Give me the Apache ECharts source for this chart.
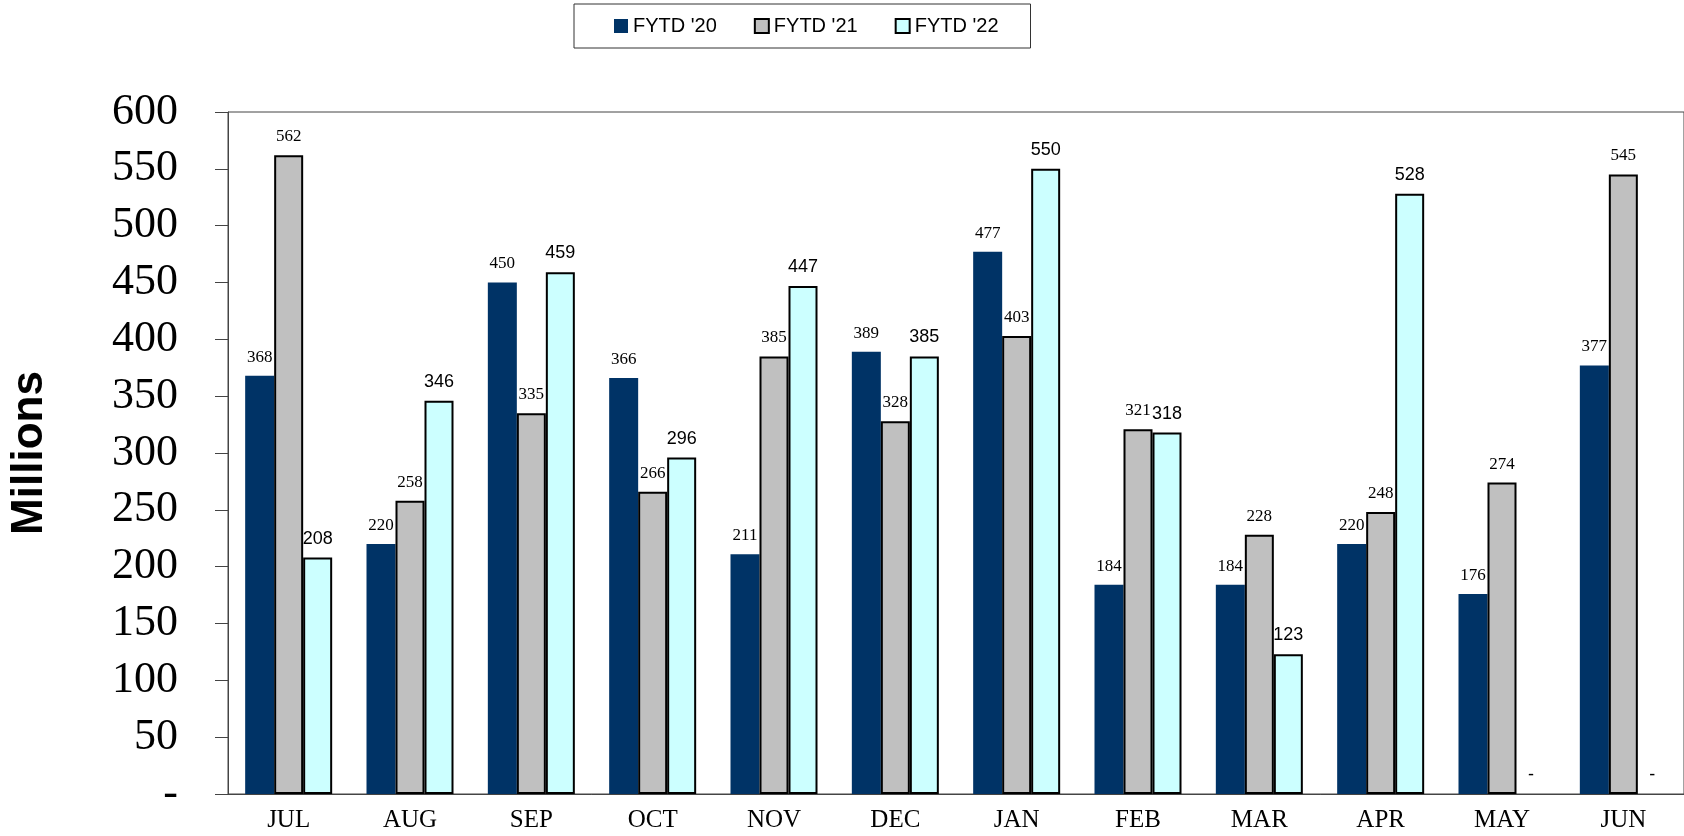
<!DOCTYPE html>
<html>
<head>
<meta charset="utf-8">
<title>FYTD</title>
<script src="https://cdn.jsdelivr.net/npm/echarts@6/dist/echarts.min.js"></script>
<style>
  html, body { margin: 0; padding: 0; background: #fff; }
  #chart { width: 1684px; height: 836px; }
</style>
</head>
<body>
<div id="chart"></div>
<script>
// data
const months = ['JUL', 'AUG', 'SEP', 'OCT', 'NOV', 'DEC', 'JAN', 'FEB', 'MAR', 'APR', 'MAY', 'JUN']
const fytd20 = [368, 220, 450, 366, 211, 389, 477, 184, 184, 220, 176, 377]
const fytd21 = [562, 258, 335, 266, 385, 328, 403, 321, 228, 248, 274, 545]
const fytd22 = [208, 346, 459, 296, 447, 385, 550, 318, 123, 528, 0, 0]
const seriesNames = ["FYTD '20", "FYTD '21", "FYTD '22"]

const serif = 'Liberation Serif, Times New Roman, serif'
const sans = 'Liberation Sans, Arial, sans-serif'

// zero shows as a dash, like the accounting format
const dash = v => (v === 0 ? '-' : String(v))

const makeSerie = (name, data, color, border, labelFont, labelSize) => ({
  name,
  type: 'bar',
  // empty months keep their dash label but draw no outline
  data: data.map(v => (v === 0 ? { value: v, itemStyle: { borderWidth: 0, color: 'transparent' } } : v)),
  barWidth: 29,
  barGap: '0%',
  itemStyle: {
    color,
    borderColor: border ? '#000' : color,
    borderWidth: border ? 2 : 0
  },
  label: {
    show: true,
    position: 'top',
    distance: 10,
    color: '#000',
    fontFamily: labelFont,
    fontSize: labelSize,
    formatter: p => dash(p.value)
  }
})

const chart = echarts.init(document.getElementById('chart'))
chart.setOption({
  animation: false,
  backgroundColor: '#fff',
  legend: {
    left: 574,
    top: 4,
    padding: [12, 32, 12, 40],
    borderColor: '#333',
    borderWidth: 1,
    itemWidth: 14,
    itemHeight: 14,
    itemGap: 37,
    icon: 'rect',
    textStyle: { fontFamily: sans, fontSize: 20, color: '#000' },
    data: seriesNames
  },
  grid: {
    left: 223,
    right: -1,
    top: 112,
    bottom: 42,
    show: true,
    borderColor: '#444',
    borderWidth: 1,
    containLabel: false
  },
  xAxis: {
    type: 'category',
    data: months,
    axisLine: { lineStyle: { color: '#444', width: 1 } },
    axisTick: { length: 7, lineStyle: { color: '#444' } },
    axisLabel: { fontFamily: serif, fontSize: 25, color: '#000', margin: 14 }
  },
  yAxis: {
    type: 'value',
    min: 0,
    max: 600,
    interval: 50,
    name: 'Millions',
    nameLocation: 'middle',
    nameGap: 176,
    nameTextStyle: { fontFamily: sans, fontWeight: 'bold', fontSize: 44, color: '#000' },
    axisLine: { show: true, lineStyle: { color: '#444', width: 1 } },
    axisTick: { show: true, length: 13, lineStyle: { color: '#444' } },
    splitLine: { show: false },
    axisLabel: {
      fontFamily: serif,
      fontSize: 44,
      color: '#000',
      margin: 50,
      formatter: v => dash(v)
    }
  },
  series: [
    makeSerie(seriesNames[0], fytd20, '#003366', false, serif, 17),
    makeSerie(seriesNames[1], fytd21, '#c0c0c0', true, serif, 17),
    makeSerie(seriesNames[2], fytd22, '#ccffff', true, sans, 18)
  ]
})
</script>
</body>
</html>
